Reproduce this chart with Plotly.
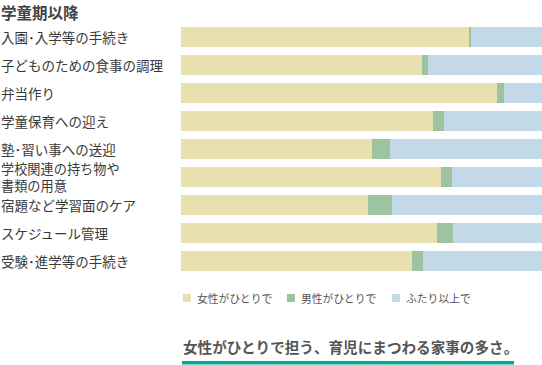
import plotly.graph_objects as go

title = "学童期以降"
categories = [
    "入園･入学等の手続き",
    "子どものための食事の調理",
    "弁当作り",
    "学童保育への迎え",
    "塾･習い事への送迎",
    "学校関連の持ち物や<br>書類の用意",
    "宿題など学習面のケア",
    "スケジュール管理",
    "受験･進学等の手続き",
]
series_names = ["女性がひとりで", "男性がひとりで", "ふたり以上で"]
female = [79.8, 66.8, 87.4, 69.9, 52.8, 72.1, 51.9, 71.0, 63.9]
male = [0.5, 1.5, 2.2, 2.9, 5.2, 3.0, 6.5, 4.3, 3.0]
both = [round(100 - f - m, 1) for f, m in zip(female, male)]
caption = "女性がひとりで担う、育児にまつわる家事の多さ。"

colors = ["#E8E1AF", "#9DC3A1", "#C3D9E7"]
FONT = "Noto Sans CJK JP"

W, H = 542, 365
ML, MR, MT, MB = 181, 0, 23, 90
PW, PH = W - ML - MR, H - MT - MB


def px(x):
    return (x - ML) / PW


def py(y):
    return (H - MB - y) / PH


fig = go.Figure()
for name, vals, col in zip(series_names, [female, male, both], colors):
    fig.add_trace(go.Bar(
        y=categories, x=vals, name=name, orientation="h",
        marker=dict(color=col, line=dict(width=0)),
        hoverinfo="x+name", showlegend=False,
    ))

annotations = []
# title
annotations.append(dict(
    text="<b>" + title + "</b>", x=px(0), y=py(0), xref="paper", yref="paper",
    xanchor="left", yanchor="top", showarrow=False, borderpad=0,
    font=dict(family=FONT, size=15.5, color="#444444"),
))
# category labels
for c in categories:
    annotations.append(dict(
        text=c, x=px(0), y=c, xref="paper", yref="y",
        xanchor="left", yanchor="middle", showarrow=False, align="left",
        borderpad=0,
        font=dict(family=FONT, size=13.5 if "<br>" not in c else 13.2,
                  color="#3a3a3a"),
    ))

# legend
shapes = []
leg_x = [183, 287, 392]
for name, col, lx in zip(series_names, colors, leg_x):
    shapes.append(dict(
        type="rect", xref="paper", yref="paper",
        x0=px(lx), x1=px(lx + 8), y0=py(302), y1=py(294),
        fillcolor=col, line=dict(width=0),
    ))
    annotations.append(dict(
        text=name, x=px(lx + 13), y=py(298), xref="paper", yref="paper",
        xanchor="left", yanchor="middle", showarrow=False, borderpad=0,
        font=dict(family=FONT, size=10.8, color="#555555"),
    ))

# caption
annotations.append(dict(
    text="<b>" + caption + "</b>", x=px(182), y=py(347), xref="paper", yref="paper",
    xanchor="left", yanchor="middle", showarrow=False, borderpad=0,
    font=dict(family=FONT, size=14.6, color="#555555"),
))
shapes.append(dict(
    type="rect", xref="paper", yref="paper",
    x0=px(182), x1=px(514), y0=py(364.5), y1=py(361),
    fillcolor="#00AC94", line=dict(width=0),
))

fig.update_layout(
    width=W, height=H,
    margin=dict(l=ML, r=MR, t=MT, b=MB, pad=0),
    barmode="stack", bargap=8 / 28,
    paper_bgcolor="white", plot_bgcolor="white",
    xaxis=dict(range=[0, 100], visible=False, fixedrange=True),
    yaxis=dict(autorange="reversed", showticklabels=False, showgrid=False,
               zeroline=False, fixedrange=True),
    annotations=annotations, shapes=shapes,
    showlegend=False,
)

fig.write_html(
    "out.html",
    config={"displayModeBar": False},
    post_script="document.body.style.margin='0';document.body.style.overflow='hidden';",
)
